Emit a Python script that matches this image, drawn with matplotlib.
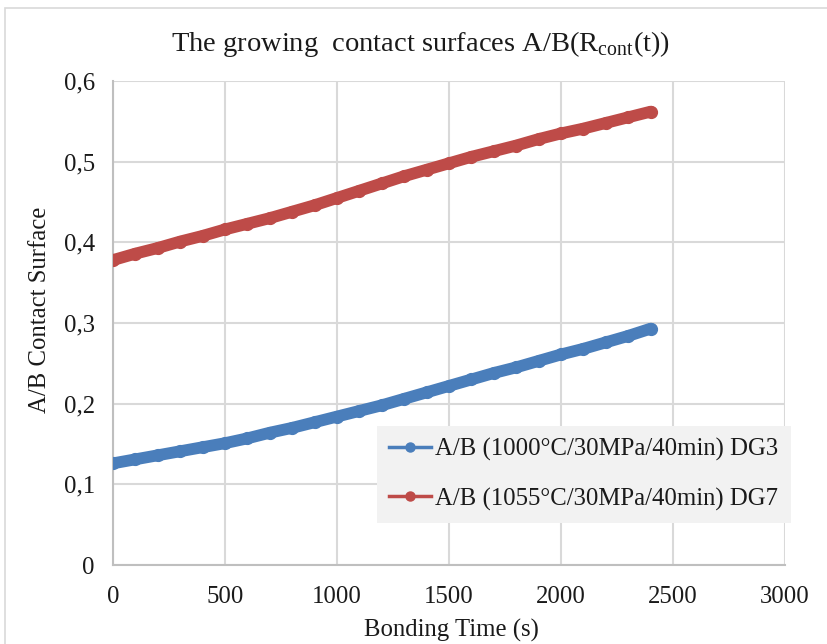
import matplotlib.pyplot as plt
from matplotlib.lines import Line2D
from matplotlib.patches import Rectangle
from matplotlib.ticker import FuncFormatter

plt.rcParams['font.family'] = ['Liberation Serif', 'DejaVu Serif']

# bonding time (s), sampled every 100 s
time_s = [0, 100, 200, 300, 400, 500, 600, 700, 800, 900, 1000, 1100, 1200,
          1300, 1400, 1500, 1600, 1700, 1800, 1900, 2000, 2100, 2200, 2300, 2400]

# A/B contact surface, DG3 (1000 C)
dg3 = [0.126, 0.131, 0.136, 0.141, 0.146, 0.151, 0.157, 0.164, 0.170, 0.177,
       0.184, 0.191, 0.198, 0.206, 0.214, 0.222, 0.230, 0.238, 0.245, 0.253,
       0.261, 0.268, 0.276, 0.284, 0.293]

# A/B contact surface, DG7 (1055 C)
dg7 = [0.378, 0.386, 0.393, 0.401, 0.408, 0.416, 0.423, 0.430, 0.438, 0.446,
       0.455, 0.464, 0.473, 0.482, 0.490, 0.498, 0.506, 0.513, 0.520, 0.528,
       0.535, 0.541, 0.548, 0.555, 0.562]

labels = ['A/B (1000°C/30MPa/40min) DG3', 'A/B (1055°C/30MPa/40min) DG7']
colors = ['#4a7ebb', '#be4b48']

FS = 17.8
fig = plt.figure(figsize=(8.27, 6.44), dpi=100)
W, H = 827, 644

# chart area border
fig.patches.append(Rectangle((5 / W, -0.1), 1.2, 1 - 8 / H + 0.1,
                             transform=fig.transFigure, fill=False,
                             edgecolor='#d9d9d9', linewidth=1.2))

ax = fig.add_axes([113 / W, 1 - 565 / H, (785 - 113) / W, (565 - 81) / H])

for ys, c in zip([dg3, dg7], colors):
    ax.plot(time_s, ys, color=c, lw=8.5, solid_capstyle='round',
            solid_joinstyle='round', marker='o', ms=8.5, mec=c, mfc=c, zorder=3)

ax.set_xlim(0, 3000)
ax.set_ylim(0, 0.6)
ax.set_xticks(range(0, 3001, 500))
ax.set_yticks([0, 0.1, 0.2, 0.3, 0.4, 0.5, 0.6])
ax.yaxis.set_major_formatter(FuncFormatter(
    lambda v, p: '0' if v == 0 else f'{v:.1f}'.replace('.', ',')))
ax.tick_params(length=0, labelsize=FS, colors='#1a1a1a')
ax.tick_params(axis='y', pad=13)
ax.tick_params(axis='x', pad=15)
ax.grid(True, color='#d9d9d9', lw=1.5)
ax.set_axisbelow(True)
for side in ['top', 'right']:
    ax.spines[side].set_visible(False)
for side in ['left', 'bottom']:
    ax.spines[side].set_color('#bfbfbf')
    ax.spines[side].set_linewidth(1.5)

fig.text(421 / W, 1 - 44 / H, r'The growing  contact surfaces A/B(R$_{\mathregular{cont}}$(t))',
         ha='center', va='center', fontsize=20.5, color='#1a1a1a')
fig.text(451 / W, 1 - 630 / H, 'Bonding Time (s)', ha='center', va='center',
         fontsize=FS, color='#1a1a1a')
fig.text(40 / W, 1 - 310 / H, 'A/B Contact Surface', ha='center', va='center',
         rotation=90, fontsize=FS, color='#1a1a1a')

handles = [Line2D([], [], color=c, lw=2.5, marker='o', ms=6.5) for c in colors]
leg = fig.legend(handles, labels, loc='upper left',
                 bbox_to_anchor=(377 / W, 1 - 426 / H), fontsize=FS,
                 frameon=True, fancybox=False, facecolor='#f2f2f2',
                 edgecolor='none', framealpha=1, handlelength=1.7,
                 handletextpad=0.15, labelspacing=1.05, borderpad=0.5,
                 borderaxespad=0)
for t in leg.get_texts():
    t.set_color('#1a1a1a')

fig.savefig('out.png', dpi=100)
